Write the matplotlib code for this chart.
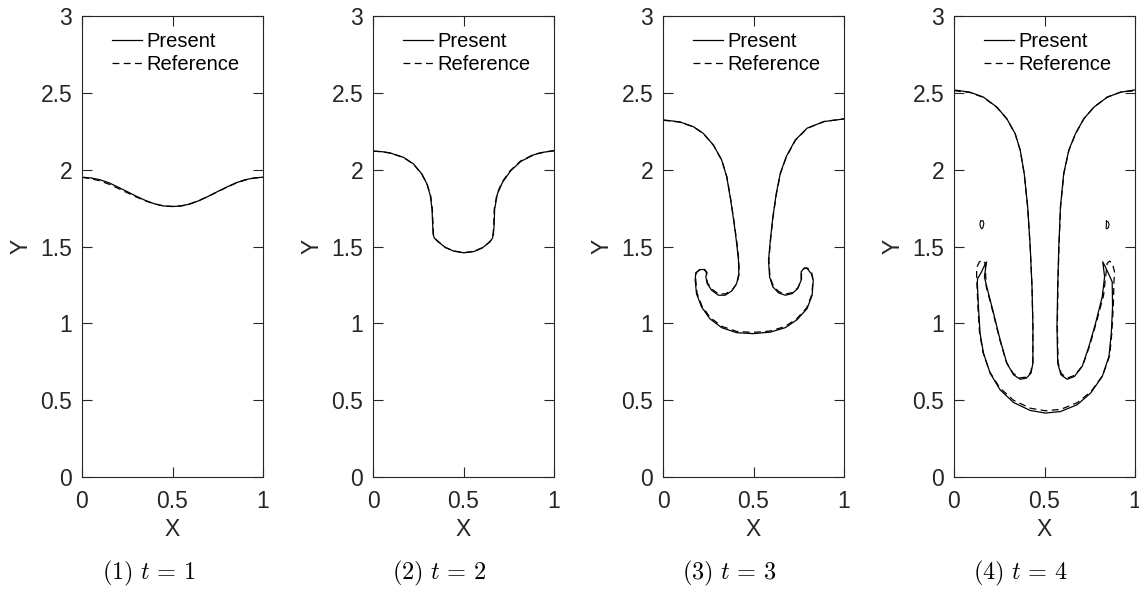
import numpy as np
import matplotlib
matplotlib.use("Agg")
import matplotlib.pyplot as plt

plt.rcParams["font.family"] = ["Liberation Sans", "DejaVu Sans"]
plt.rcParams["mathtext.fontset"] = "cm"

# interface positions, (x, y) per time step
# t = 1
p1x = [0, 0.05, 0.1, 0.15, 0.2, 0.25, 0.3, 0.35, 0.4, 0.45, 0.5,
       0.55, 0.6, 0.65, 0.7, 0.75, 0.8, 0.85, 0.9, 0.95, 1.0]
p1y = [1.951, 1.946, 1.934, 1.914, 1.886, 1.857, 1.827, 1.800, 1.778, 1.764, 1.760,
       1.764, 1.778, 1.800, 1.828, 1.858, 1.887, 1.914, 1.934, 1.946, 1.951]
r1x = p1x
r1y = [1.950, 1.941, 1.927, 1.905, 1.878, 1.850, 1.822, 1.797, 1.777, 1.764, 1.761,
       1.765, 1.779, 1.801, 1.828, 1.857, 1.885, 1.912, 1.932, 1.945, 1.950]

# t = 2
p2x = [0, 0.05, 0.094, 0.169, 0.224, 0.270, 0.298, 0.317, 0.326, 0.330, 0.332, 0.338,
       0.354, 0.400, 0.446, 0.502, 0.557, 0.604, 0.646, 0.660, 0.665, 0.669, 0.672,
       0.687, 0.715, 0.761, 0.817, 0.891, 0.95, 1.0]
p2y = [2.120, 2.117, 2.109, 2.080, 2.037, 1.972, 1.907, 1.830, 1.743, 1.635, 1.580, 1.556,
       1.537, 1.493, 1.470, 1.459, 1.467, 1.491, 1.530, 1.554, 1.578, 1.635, 1.743,
       1.841, 1.917, 1.993, 2.054, 2.098, 2.115, 2.122]
r2x = [0, 0.05, 0.094, 0.169, 0.224, 0.270, 0.299, 0.319, 0.328, 0.332, 0.334, 0.340,
       0.355, 0.400, 0.446, 0.502, 0.557, 0.604, 0.645, 0.658, 0.663, 0.667, 0.670,
       0.685, 0.713, 0.759, 0.815, 0.889, 0.95, 1.0]
r2y = [2.121, 2.117, 2.108, 2.079, 2.035, 1.970, 1.905, 1.828, 1.742, 1.634, 1.580, 1.557,
       1.538, 1.494, 1.471, 1.460, 1.468, 1.492, 1.531, 1.555, 1.579, 1.636, 1.745,
       1.843, 1.919, 1.995, 2.056, 2.100, 2.116, 2.124]

# t = 3
p3x = [0, 0.093, 0.167, 0.222, 0.278, 0.324, 0.352, 0.374, 0.393, 0.407, 0.417, 0.419,
       0.407, 0.380, 0.343, 0.306, 0.269, 0.244, 0.237, 0.241, 0.228, 0.204, 0.181, 0.178,
       0.185, 0.213, 0.259, 0.324, 0.407, 0.5, 0.593, 0.676, 0.741, 0.796, 0.824, 0.830,
       0.819, 0.796, 0.778, 0.763, 0.763, 0.744, 0.713, 0.676, 0.639, 0.607, 0.589, 0.583,
       0.593, 0.607, 0.626, 0.648, 0.681, 0.731, 0.796, 0.889, 1.0]
p3y = [2.324, 2.311, 2.280, 2.237, 2.161, 2.063, 1.954, 1.802, 1.650, 1.520, 1.411, 1.324,
       1.259, 1.211, 1.183, 1.183, 1.215, 1.259, 1.302, 1.328, 1.350, 1.350, 1.328, 1.280,
       1.193, 1.107, 1.030, 0.972, 0.939, 0.933, 0.943, 0.972, 1.024, 1.096, 1.183, 1.280,
       1.324, 1.357, 1.357, 1.335, 1.280, 1.226, 1.193, 1.183, 1.198, 1.237, 1.302, 1.411,
       1.541, 1.693, 1.846, 1.976, 2.085, 2.193, 2.270, 2.313, 2.330]
r3x = [0, 0.093, 0.167, 0.222, 0.278, 0.325, 0.353, 0.375, 0.394, 0.409, 0.419, 0.421,
       0.410, 0.383, 0.345, 0.307, 0.271, 0.246, 0.239, 0.243, 0.230, 0.206, 0.184, 0.181,
       0.188, 0.215, 0.261, 0.326, 0.408, 0.5, 0.592, 0.674, 0.739, 0.794, 0.822, 0.829,
       0.822, 0.799, 0.780, 0.765, 0.765, 0.746, 0.715, 0.678, 0.641, 0.609, 0.591, 0.585,
       0.594, 0.608, 0.627, 0.649, 0.682, 0.732, 0.797, 0.889, 1.0]
r3y = [2.322, 2.309, 2.279, 2.236, 2.160, 2.062, 1.953, 1.801, 1.649, 1.520, 1.411, 1.324,
       1.262, 1.218, 1.192, 1.191, 1.221, 1.263, 1.305, 1.330, 1.352, 1.352, 1.330, 1.282,
       1.197, 1.113, 1.037, 0.980, 0.947, 0.941, 0.950, 0.979, 1.030, 1.101, 1.187, 1.282,
       1.330, 1.360, 1.360, 1.337, 1.284, 1.232, 1.200, 1.191, 1.205, 1.243, 1.305, 1.411,
       1.541, 1.692, 1.845, 1.975, 2.084, 2.192, 2.269, 2.313, 2.331]

# t = 4
p4x = [0, 0.089, 0.163, 0.237, 0.292, 0.338, 0.366, 0.388, 0.407, 0.421, 0.431, 0.436,
       0.436, 0.425, 0.399, 0.366, 0.329, 0.292, 0.255, 0.214, 0.181, 0.168, 0.180,
       0.170, 0.150, 0.130, 0.129, 0.135, 0.144, 0.163, 0.200, 0.255, 0.329, 0.421, 0.505,
       0.588, 0.680, 0.754, 0.819, 0.856, 0.869, 0.876, 0.874, 0.855, 0.835, 0.822,
       0.832, 0.819, 0.782, 0.745, 0.708, 0.665, 0.625, 0.591, 0.573, 0.569, 0.573,
       0.579, 0.588, 0.606, 0.634, 0.671, 0.717, 0.773, 0.847, 0.920, 1.0]
p4y = [2.519, 2.504, 2.472, 2.407, 2.331, 2.234, 2.126, 1.974, 1.758, 1.498, 1.238, 0.978,
       0.740, 0.675, 0.643, 0.636, 0.665, 0.740, 0.892, 1.087, 1.238, 1.303, 1.400,
       1.380, 1.330, 1.290, 1.260, 1.108, 0.935, 0.805, 0.675, 0.567, 0.485, 0.433, 0.416,
       0.426, 0.470, 0.545, 0.654, 0.784, 0.935, 1.108, 1.270, 1.320, 1.370, 1.400,
       1.303, 1.173, 1.000, 0.848, 0.719, 0.654, 0.636, 0.665, 0.740, 0.978, 1.238,
       1.498, 1.758, 1.974, 2.126, 2.234, 2.331, 2.407, 2.472, 2.504, 2.519]
r4x = [0, 0.089, 0.163, 0.237, 0.292, 0.338, 0.366, 0.388, 0.407, 0.421, 0.431, 0.436,
       0.435, 0.423, 0.397, 0.364, 0.327, 0.289, 0.252, 0.211, 0.178, 0.172, 0.160,
       0.140, 0.125, 0.125, 0.126, 0.132, 0.141, 0.160, 0.197, 0.253, 0.328, 0.421, 0.505,
       0.589, 0.682, 0.757, 0.822, 0.860, 0.872, 0.880, 0.884, 0.888, 0.875, 0.860,
       0.846, 0.826, 0.787, 0.750, 0.712, 0.668, 0.628, 0.593, 0.575, 0.571, 0.574,
       0.580, 0.589, 0.607, 0.635, 0.672, 0.718, 0.774, 0.848, 0.921, 1.0]
r4y = [2.514, 2.502, 2.470, 2.405, 2.330, 2.233, 2.125, 1.973, 1.757, 1.497, 1.237, 0.978,
       0.742, 0.680, 0.650, 0.645, 0.674, 0.748, 0.898, 1.092, 1.240, 1.390, 1.410,
       1.400, 1.360, 1.310, 1.280, 1.110, 0.940, 0.812, 0.685, 0.580, 0.500, 0.448, 0.431,
       0.440, 0.484, 0.556, 0.662, 0.790, 0.938, 1.110, 1.280, 1.330, 1.390, 1.405,
       1.390, 1.180, 1.008, 0.856, 0.728, 0.662, 0.645, 0.672, 0.745, 0.980, 1.240,
       1.499, 1.759, 1.975, 2.127, 2.235, 2.332, 2.408, 2.473, 2.505, 2.514]

# tiny detached droplets at t = 4
d4lx = [0.147, 0.160, 0.165, 0.160, 0.154, 0.147, 0.143, 0.147]
d4ly = [1.665, 1.668, 1.650, 1.625, 1.615, 1.625, 1.645, 1.665]
d4rx = [0.842, 0.852, 0.857, 0.852, 0.845, 0.840, 0.842, 0.842]
d4ry = [1.665, 1.660, 1.643, 1.622, 1.615, 1.620, 1.640, 1.665]

present = [(p1x, p1y), (p2x, p2y), (p3x, p3y), (p4x, p4y)]
reference = [(r1x, r1y), (r2x, r2y), (r3x, r3y), (r4x, r4y)]
captions = ["(1)", "(2)", "(3)", "(4)"]
times = [1, 2, 3, 4]

W, H = 1139, 592
fig = plt.figure(figsize=(W / 100, H / 100), dpi=100)

lefts = [82, 373, 663, 954]
axw, top, bot = 181, 16, 477
fs = 16.5
spine_col = "#262626"

for k in range(4):
    ax = fig.add_axes([lefts[k] / W, (H - bot) / H, axw / W, (bot - top) / H])
    rx, ry = reference[k]
    px, py = present[k]
    ax.plot(px, py, "-", color="k", lw=0.9, label="Present")
    ax.plot(rx, ry, color="k", lw=0.9, linestyle=(0, (5.5, 3.5)), label="Reference")
    if k == 3:
        ax.plot(d4lx, d4ly, "-", color="k", lw=0.8)
        ax.plot(d4rx, d4ry, "-", color="k", lw=0.8)

    ax.set_xlim(0, 1)
    ax.set_ylim(0, 3)
    ax.set_xticks([0, 0.5, 1])
    ax.set_xticklabels(["0", "0.5", "1"])
    ax.set_yticks([0, 0.5, 1, 1.5, 2, 2.5, 3])
    ax.set_yticklabels(["0", "0.5", "1", "1.5", "2", "2.5", "3"])
    ax.tick_params(direction="in", length=7, width=0.8, top=True, right=True,
                   labelsize=fs, colors=spine_col)
    ax.tick_params(axis="x", pad=9)
    ax.tick_params(axis="y", pad=7)
    for s in ax.spines.values():
        s.set_color(spine_col)
        s.set_linewidth(0.8)
    ax.set_xlabel("X", fontsize=fs, color=spine_col, labelpad=4)
    ax.set_ylabel("Y", fontsize=fs, color=spine_col, labelpad=6)

    ax.legend(loc="upper left", bbox_to_anchor=(0.165, 0.965), frameon=False,
              fontsize=14.5, handlelength=1.5, handletextpad=0.2, labelspacing=0.2,
              borderpad=0, borderaxespad=0)

    cx = (lefts[k] + axw / 2 - 24) / W
    fig.text(cx, (H - 573) / H, r"$\mathrm{%s}\ t\,=\,%d$" % (captions[k], times[k]),
             ha="center", va="center", fontsize=17.5)

fig.savefig("out.png", dpi=100)
